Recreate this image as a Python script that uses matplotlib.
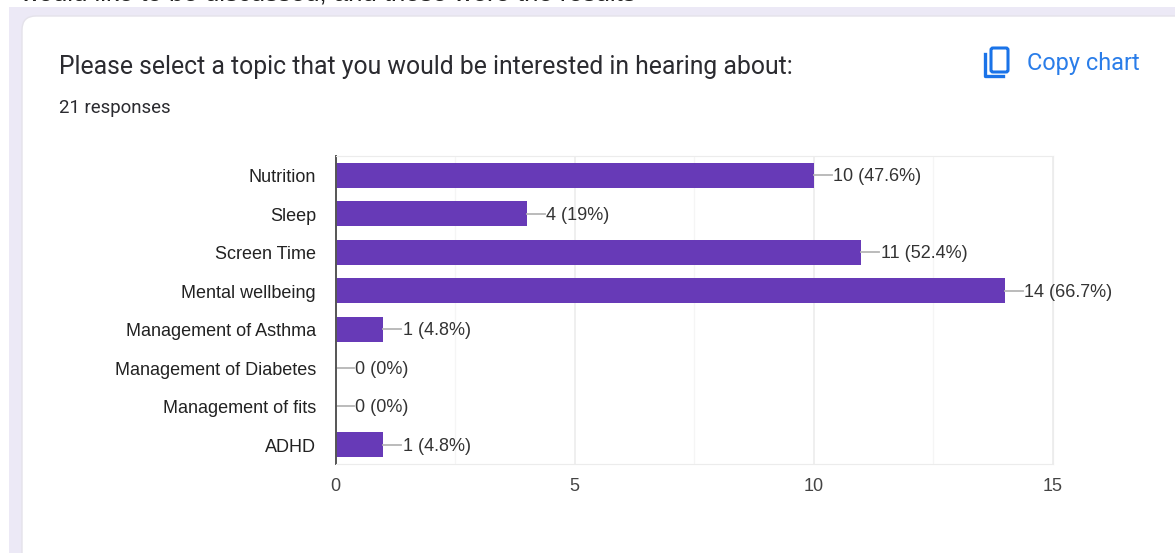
import matplotlib
matplotlib.use('Agg')
import matplotlib.pyplot as plt
from matplotlib.patches import FancyBboxPatch, Rectangle
from matplotlib.transforms import ScaledTranslation

plt.rcParams['font.family'] = ['Liberation Sans', 'DejaVu Sans']

topics = ['Nutrition', 'Sleep', 'Screen Time', 'Mental wellbeing', 'Management of Asthma',
          'Management of Diabetes', 'Management of fits', 'ADHD']
counts = [10, 4, 11, 14, 1, 0, 0, 1]
percent_labels = ['47.6%', '19%', '52.4%', '66.7%', '4.8%', '0%', '0%', '4.8%']
x_ticks = [0, 5, 10, 15]
x_minor = [2.5, 7.5, 12.5]

W, H = 1175, 553
fig = plt.figure(figsize=(W / 100, H / 100), dpi=100, facecolor='white')

##page background and card, drawn in pixel coordinates
bg = fig.add_axes([0, 0, 1, 1])
bg.set_xlim(0, W)
bg.set_ylim(H, 0)
bg.axis('off')
bg.add_patch(Rectangle((9, 7), W - 9, H, fc='#ece9f6', ec='none'))
bg.add_patch(FancyBboxPatch((22 + 14, 16 + 14), W + 40, H + 40, boxstyle='round,pad=14',
                            fc='white', ec='#e4e2ea', lw=1))

##cut off line of the document above the card
bg.text(20, 0.5, 'would like to be discussed, and these were the results',
        fontsize=18.5, color='#222222', va='baseline')

bg.text(59, 67, 'Please select a topic that you would be interested in hearing about:',
        family=['Roboto', 'DejaVu Sans'], fontsize=17.85, color='#2b2b30', va='center')
bg.text(59, 108, '21 responses', family=['Roboto', 'DejaVu Sans'], fontsize=13.4,
        color='#2b2b30', va='center')
bg.text(1027, 63.5, 'Copy chart', family=['Roboto', 'DejaVu Sans'], fontsize=16.9, color='#2a7de9',
        va='center')

##copy icon
bg.add_patch(FancyBboxPatch((992, 49), 15, 22, boxstyle='round,pad=1,rounding_size=2',
                            fc='none', ec='#1a73e8', lw=2.2))
bg.plot([984.5, 984.5, 1003], [54, 76, 76], color='#1a73e8', lw=2.4)

##the chart itself
left, right, top, bottom = 335.5, 1052.5, 156, 464
ax = fig.add_axes([left / W, 1 - bottom / H, (right - left) / W, (bottom - top) / H])
ypos = list(range(len(topics)))
ax.barh(ypos, counts, height=0.65, color='#673ab7')
ax.set_xlim(0, 15)
ax.set_ylim(len(topics) - 0.5, -0.5)
ax.set_yticks(ypos)
ax.set_yticklabels(topics, fontsize=13, color='#222222')
ax.set_xticks(x_ticks)
ax.set_xticklabels([str(t) for t in x_ticks], fontsize=13, color='#444444')
ax.set_xticks(x_minor, minor=True)
ax.tick_params(axis='y', length=0, pad=14)
ax.tick_params(axis='x', length=0, pad=10)
ax.tick_params(axis='x', which='minor', length=0)
ax.grid(True, axis='x', which='major', color='#ececec', lw=1.2)
ax.grid(True, axis='x', which='minor', color='#f5f5f5', lw=1)
ax.set_axisbelow(True)
for side in ['top', 'right', 'bottom']:
    ax.spines[side].set_color('#ececec')
ax.spines['left'].set_color('#555555')
ax.spines['left'].set_linewidth(1.4)

##nudge the category names down a little
for label in ax.get_yticklabels():
    label.set_transform(label.get_transform() + ScaledTranslation(0, -0.3 / 72, fig.dpi_scale_trans))

##leader line and value label for each bar
step = 15 / (right - left)
for y, c, p in zip(ypos, counts, percent_labels):
    ax.plot([c, c + 18 * step], [y, y], color='#b5b5b5', lw=1.3, clip_on=False)
    ax.annotate('%d (%s)' % (c, p), (c, y), xytext=(14, -1.2), textcoords='offset points',
                fontsize=13, color='#333333', va='center', annotation_clip=False)

fig.savefig('out.png', dpi=100)
